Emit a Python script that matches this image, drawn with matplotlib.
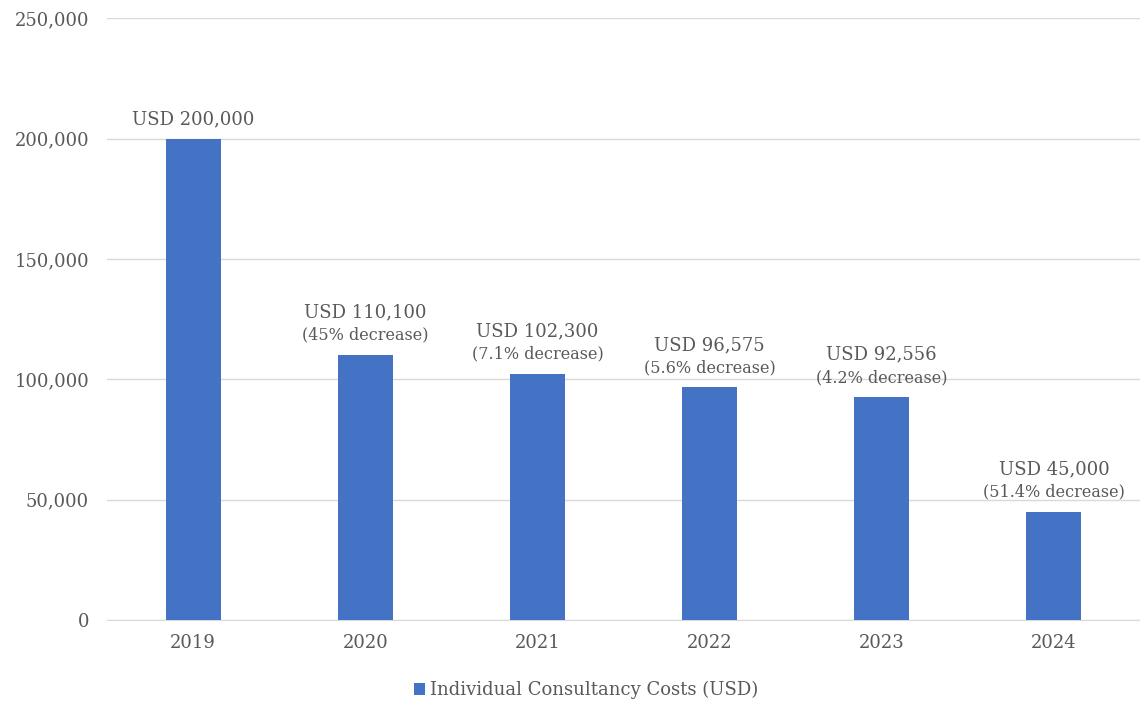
import matplotlib.pyplot as plt
from matplotlib.ticker import FuncFormatter

years = ["2019", "2020", "2021", "2022", "2023", "2024"]
costs = [200000, 110100, 102300, 96575, 92556, 45000]
amount_labels = ["USD 200,000", "USD 110,100", "USD 102,300", "USD 96,575", "USD 92,556", "USD 45,000"]
change_labels = ["", "(45% decrease)", "(7.1% decrease)", "(5.6% decrease)", "(4.2% decrease)", "(51.4% decrease)"]

BAR_COLOR = "#4472C4"
TEXT_COLOR = "#595959"
GRID_COLOR = "#d9d9d9"

plt.rcParams['font.family'] = ['DejaVu Serif']

fig = plt.figure(figsize=(11.4, 7.02), dpi=100)
ax = fig.add_axes([0.094, 0.117, 0.906, 0.857])

x = list(range(len(years)))
bars = ax.bar(x, costs, width=0.32, color=BAR_COLOR, label="Individual Consultancy Costs (USD)", zorder=3)

#labels above bars
for xi, val, amt, chg in zip(x, costs, amount_labels, change_labels):
    if chg:
        ax.annotate(chg, (xi, val), xytext=(0, 8), textcoords="offset points",
                    ha="center", va="bottom", fontsize=11.5, color=TEXT_COLOR)
        ax.annotate(amt, (xi, val), xytext=(0, 24), textcoords="offset points",
                    ha="center", va="bottom", fontsize=13, color=TEXT_COLOR)
    else:
        ax.annotate(amt, (xi, val), xytext=(0, 7.5), textcoords="offset points",
                    ha="center", va="bottom", fontsize=13, color=TEXT_COLOR)

ax.set_xlim(-0.5, len(years) - 0.5)
ax.set_ylim(0, 250000)
ax.set_yticks(range(0, 250001, 50000))
ax.yaxis.set_major_formatter(FuncFormatter(lambda v, p: f"{int(v):,}"))
ax.set_xticks(x)
ax.set_xticklabels(years)

ax.grid(axis="y", color=GRID_COLOR, linewidth=1, zorder=0)
for s in ["top", "right", "left"]:
    ax.spines[s].set_visible(False)
ax.spines["bottom"].set_color(GRID_COLOR)
ax.tick_params(axis="both", length=0, labelsize=13, labelcolor=TEXT_COLOR)
ax.tick_params(axis="y", pad=13)
ax.tick_params(axis="x", pad=10)

ax.legend(loc="upper center", bbox_to_anchor=(0.464, -0.075), frameon=False,
          fontsize=13, labelcolor=TEXT_COLOR, handlelength=0.6, handleheight=0.6,
          handletextpad=0.3)

fig.savefig("out.png", dpi=100)
